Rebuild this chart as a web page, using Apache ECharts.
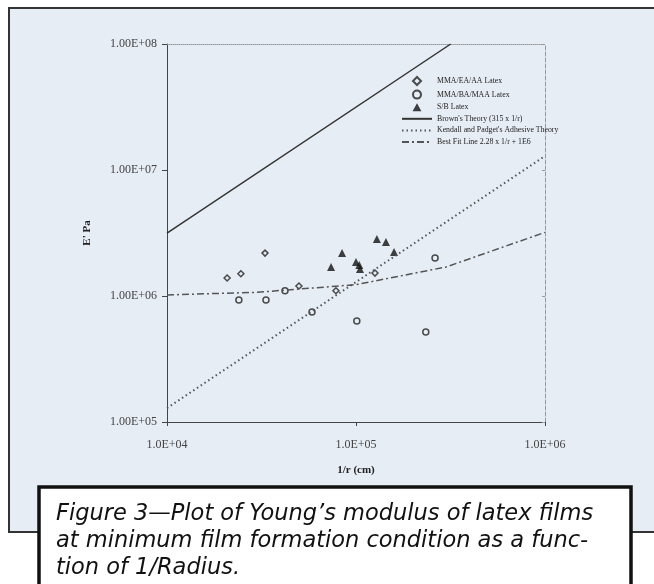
<!DOCTYPE html>
<html>
<head>
<meta charset="utf-8">
<script src="https://cdn.jsdelivr.net/npm/echarts@6/dist/echarts.min.js"></script>
<style>
html, body { margin: 0; padding: 0; background: #fff; }
#chartmain { width: 654px; height: 584px; }
</style>
</head>
<body>
<div id="chartmain"></div>
<script>
// values: [1/r (cm), E' (Pa)]
var mmaEaAa = [[2.08e4, 1.39e6], [2.46e4, 1.50e6], [3.30e4, 2.19e6], [4.99e4, 1.20e6], [7.83e4, 1.10e6], [1.26e5, 1.52e6]];
var mmaBaMaa = [[2.40e4, 9.3e5], [3.34e4, 9.3e5], [4.21e4, 1.10e6], [5.85e4, 7.46e5], [1.01e5, 6.34e5], [2.34e5, 5.18e5], [2.62e5, 2.0e6]];
var sbLatex = [[7.38e4, 1.70e6], [8.44e4, 2.19e6], [1.0e5, 1.86e6], [1.04e5, 1.76e6], [1.05e5, 1.64e6], [1.29e5, 2.83e6], [1.44e5, 2.68e6], [1.59e5, 2.23e6]];
var brownLine = [[1e4, 3.15e6], [3.17e5, 1e8]];
var kendallLine = [[1e4, 1.29e5], [1e6, 1.29e7]];
var bestFitLine = [[1e4, 1.02e6], [3e4, 1.07e6], [1e5, 1.23e6], [3e5, 1.70e6], [1e6, 3.2e6]];
var seriesNames = ['MMA/EA/AA Latex', 'MMA/BA/MAA Latex', 'S/B Latex',
	"Brown's Theory (315 x 1/r)", "Kendall and Padget's Adhesive Theory", 'Best Fit Line 2.28 x 1/r + 1E6'];
var captionLines = ['Figure 3\u2014Plot of Young\u2019s modulus of latex films',
	'at minimum film formation condition as a func-',
	'tion of 1/Radius.'];

var serif = '"Liberation Serif", "DejaVu Serif", serif';
var bg = '#e7edf4';
var none = 'rgba(0,0,0,0)';

function expLabel(v, digits) {
	var e = Math.round(Math.log10(v));
	var m = (v / Math.pow(10, e)).toFixed(digits);
	var s = e < 10 ? '0' + e : '' + e;
	return m + 'E+' + s;
}

var option = {
	animation: false,
	graphic: [
		{
			type: 'rect', z: -10, silent: true,
			shape: { x: 9, y: 8, width: 660, height: 524 },
			style: { fill: bg, stroke: '#333', lineWidth: 2 }
		},
		{
			type: 'group', z: 100,
			children: [
				{
					type: 'rect',
					shape: { x: 39, y: 487, width: 592, height: 115 },
					style: { fill: '#fff', stroke: '#111', lineWidth: 3.5 }
				}
			].concat(captionLines.map(function (t, i) {
				return {
					type: 'text',
					style: {
						x: 56, y: 514 + i * 27, text: t,
						font: 'italic 22.5px "DejaVu Sans", "Noto Sans", sans-serif',
						fill: '#111', verticalAlign: 'middle'
					}
				};
			}))
		}
	],
	legend: {
		orient: 'vertical',
		left: 401,
		top: 76,
		padding: 0,
		itemWidth: 30,
		itemHeight: 8,
		itemGap: 3.6,
		textStyle: { fontFamily: serif, fontSize: 7.8, color: '#222' },
		data: [
			{ name: seriesNames[0], icon: 'path://M5,0L10,5L5,10L0,5Z' },
			{ name: seriesNames[1], icon: 'path://M5,0A5,5,0,1,1,4.99,0Z' },
			{ name: seriesNames[2], icon: 'path://M5,0L10,9L0,9Z' },
			seriesNames[3], seriesNames[4], seriesNames[5]
		]
	},
	grid: { left: 167, right: 109, top: 44, bottom: 162 },
	xAxis: [
		{
			type: 'log', logBase: 10, min: 1e4, max: 1e6,
			name: '1/r (cm)', nameLocation: 'middle', nameGap: 43,
			nameTextStyle: { fontFamily: serif, fontSize: 11, fontWeight: 'bold', color: '#222' },
			axisLine: { lineStyle: { color: '#444', width: 1 } },
			axisTick: { length: 4, lineStyle: { color: '#444' } },
			axisLabel: { fontFamily: serif, fontSize: 12, color: '#444', margin: 17,
				formatter: function (v) { return expLabel(v, 1); } },
			splitLine: { show: false }
		},
		{
			type: 'log', logBase: 10, min: 1e4, max: 1e6, position: 'top',
			axisLine: { show: true, lineStyle: { color: '#999', type: 'dotted', width: 1 } },
			axisTick: { show: false }, axisLabel: { show: false }, splitLine: { show: false }
		}
	],
	yAxis: [
		{
			type: 'log', logBase: 10, min: 1e5, max: 1e8,
			name: "E' Pa", nameLocation: 'middle', nameGap: 74,
			nameTextStyle: { fontFamily: serif, fontSize: 11, fontWeight: 'bold', color: '#222' },
			axisLine: { lineStyle: { color: '#444', width: 1 } },
			axisTick: { length: 5, lineStyle: { color: '#444' } },
			axisLabel: { fontFamily: serif, fontSize: 12, color: '#444', margin: 10,
				formatter: function (v) { return expLabel(v, 2); } },
			splitLine: { show: false }
		},
		{
			type: 'log', logBase: 10, min: 1e5, max: 1e8, position: 'right',
			axisLine: { show: true, lineStyle: { color: '#999', type: 'dashed', width: 1 } },
			axisTick: { show: true, inside: true, length: 3, lineStyle: { color: '#999' } },
			axisLabel: { show: false }, splitLine: { show: false }
		}
	],
	series: [
		{
			name: seriesNames[0], type: 'scatter', data: mmaEaAa,
			symbol: 'diamond', symbolSize: 6,
			itemStyle: { color: bg, borderColor: '#222', borderWidth: 1.5 }
		},
		{
			name: seriesNames[1], type: 'scatter', data: mmaBaMaa,
			symbol: 'circle', symbolSize: 6,
			itemStyle: { color: bg, borderColor: '#222', borderWidth: 1.5 }
		},
		{
			name: seriesNames[2], type: 'scatter', data: sbLatex,
			symbol: 'triangle', symbolSize: 8,
			itemStyle: { color: '#111' }
		},
		{
			name: seriesNames[3], type: 'line', data: brownLine,
			symbol: 'none', clip: true,
			lineStyle: { color: '#333', width: 1.5, type: 'solid' },
			itemStyle: { color: none, borderWidth: 0 }
		},
		{
			name: seriesNames[4], type: 'line', data: kendallLine,
			symbol: 'none', clip: true,
			lineStyle: { color: '#555', width: 2, type: [1.5, 3] },
			itemStyle: { color: none, borderWidth: 0 }
		},
		{
			name: seriesNames[5], type: 'line', data: bestFitLine,
			symbol: 'none', clip: true,
			lineStyle: { color: '#555', width: 1.5, type: [7, 3, 2, 3] },
			itemStyle: { color: none, borderWidth: 0 }
		}
	]
};

var myChart = echarts.init(document.getElementById('chartmain'));
myChart.setOption(option);
</script>
</body>
</html>
